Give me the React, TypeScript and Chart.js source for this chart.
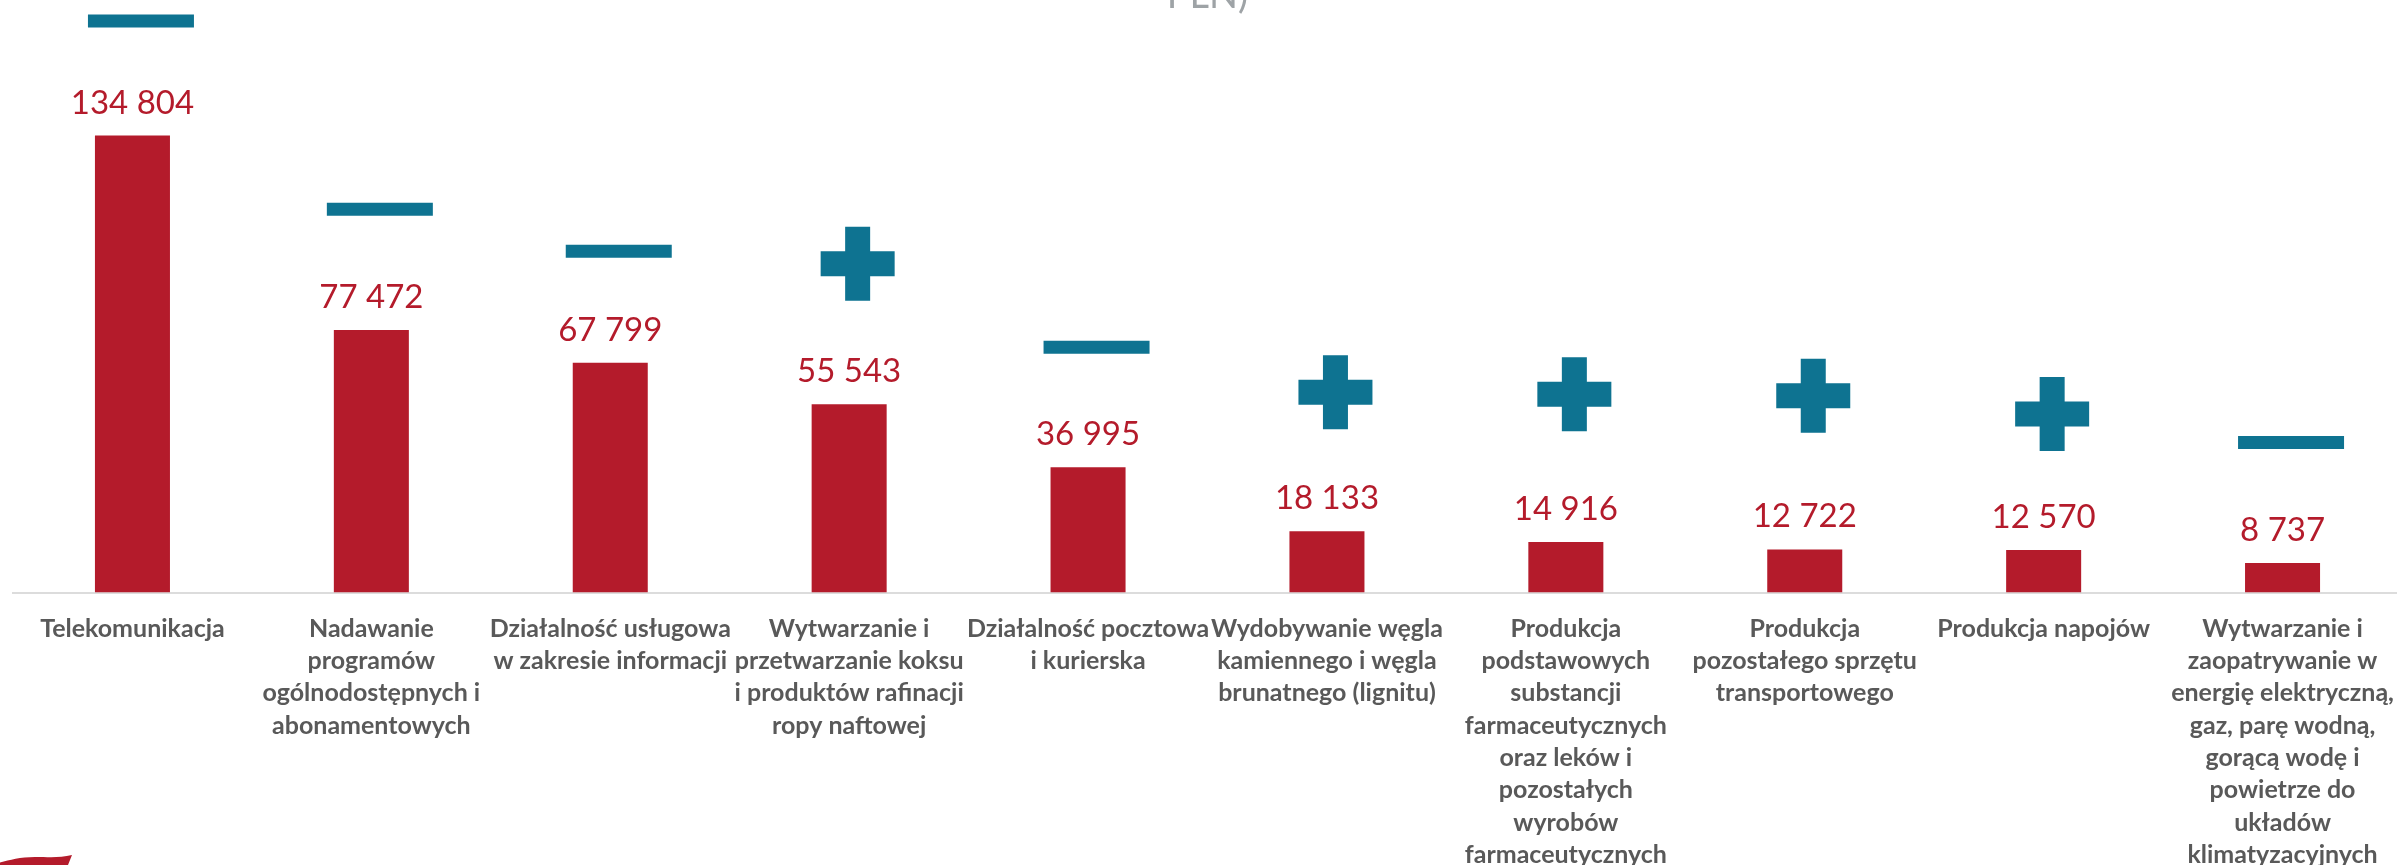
import React, { useEffect, useRef } from 'react';
import { Chart, registerables } from 'chart.js';

Chart.register(...registerables);

// ---- data ----
const categoryLabels: string[][] = [
  ['Telekomunikacja'],
  ['Nadawanie', 'programów', 'ogólnodostępnych i', 'abonamentowych'],
  ['Działalność usługowa', 'w zakresie informacji'],
  ['Wytwarzanie i', 'przetwarzanie koksu', 'i produktów rafinacji', 'ropy naftowej'],
  ['Działalność pocztowa', 'i kurierska'],
  ['Wydobywanie węgla', 'kamiennego i węgla', 'brunatnego (lignitu)'],
  ['Produkcja', 'podstawowych', 'substancji', 'farmaceutycznych', 'oraz leków i', 'pozostałych', 'wyrobów', 'farmaceutycznych'],
  ['Produkcja', 'pozostałego sprzętu', 'transportowego'],
  ['Produkcja napojów'],
  ['Wytwarzanie i', 'zaopatrywanie w', 'energię elektryczną,', 'gaz, parę wodną,', 'gorącą wodę i', 'powietrze do', 'układów', 'klimatyzacyjnych'],
];

const values: number[] = [134804, 77472, 67799, 55543, 36995, 18133, 14916, 12722, 12570, 8737];

// direction of change shown by the marker above each bar
const trendSigns: string[] = ['-', '-', '-', '+', '-', '+', '+', '+', '+', '-'];

// vertical level (in chart units) at which each marker sits
const markerLevels: number[] = [168600, 113100, 100700, 97000, 72400, 59100, 58500, 58100, 52700, 44300];

const titleText = 'PLN)';

// ---- styles ----
const BAR_COLOR = '#B41B2B';
const LABEL_COLOR = '#B41B2B';
const MARKER_COLOR = '#0E7391';
const AXIS_TEXT = '#595959';
const FONT = 'Lato';

const formatValue = (v: number) => String(v).replace(/\B(?=(\d{3})+(?!\d))/g, ' ');

const valueLabelPlugin = {
  id: 'valueLabels',
  afterDatasetsDraw(chart: any) {
    const meta = chart.getDatasetMeta(0);
    const ctx = chart.ctx;
    ctx.save();
    ctx.font = `33px ${FONT}`;
    ctx.fillStyle = LABEL_COLOR;
    ctx.textAlign = 'center';
    ctx.textBaseline = 'alphabetic';
    meta.data.forEach((el: any, i: number) => {
      ctx.fillText(formatValue(values[i]), el.x, el.y - 22);
    });
    ctx.restore();
  },
};

const markerShiftPlugin = {
  id: 'markerShift',
  beforeDatasetDraw(chart: any, args: any) {
    if (args.index === 1) {
      chart.ctx.save();
      chart.ctx.translate(8.5, 0);
    }
  },
  afterDatasetDraw(chart: any, args: any) {
    if (args.index === 1) chart.ctx.restore();
  },
};

export default function App() {
  const canvasRef = useRef<HTMLCanvasElement | null>(null);

  useEffect(() => {
    if (!canvasRef.current) return;
    const chart = new Chart(canvasRef.current, {
      type: 'bar',
      data: {
        labels: categoryLabels,
        datasets: [
          {
            type: 'bar',
            data: values,
            backgroundColor: BAR_COLOR,
            borderWidth: 0,
            barPercentage: 0.314,
            categoryPercentage: 1,
            order: 2,
          },
          {
            type: 'line',
            data: markerLevels,
            showLine: false,
            clip: false,
            order: 1,
            pointStyle: trendSigns.map((s) => (s === '+' ? 'cross' : 'line')) as any,
            pointRadius: trendSigns.map((s) => (s === '+' ? 37 : 53)),
            pointHoverRadius: trendSigns.map((s) => (s === '+' ? 37 : 53)),
            pointBorderWidth: trendSigns.map((s) => (s === '+' ? 25 : 13)),
            pointHoverBorderWidth: trendSigns.map((s) => (s === '+' ? 25 : 13)),
            pointBorderColor: MARKER_COLOR,
            pointBackgroundColor: MARKER_COLOR,
          } as any,
        ],
      },
      options: {
        responsive: false,
        animation: false,
        events: [],
        layout: { autoPadding: false, padding: { left: 13, right: 8, top: 0, bottom: 0 } },
        plugins: {
          legend: { display: false },
          tooltip: { enabled: false },
          title: {
            display: true,
            text: titleText,
            color: '#9EA3A6',
            font: { family: FONT, size: 38, weight: 'normal', lineHeight: 1 },
            padding: { top: 0, bottom: 3 },
          },
        },
        scales: {
          x: {
            grid: { display: false, drawTicks: false },
            border: { display: true, color: '#DCDCDC', width: 2 },
            afterFit: (scale: any) => {
              scale.paddingLeft = 0;
              scale.paddingRight = 0;
            },
            ticks: {
              autoSkip: false,
              maxRotation: 0,
              minRotation: 0,
              padding: 20,
              color: AXIS_TEXT,
              font: { family: FONT, size: 25, weight: 'bold', lineHeight: '32.3px' },
            },
          },
          y: {
            display: false,
            min: 0,
            max: 169500,
          },
        },
      } as any,
      plugins: [valueLabelPlugin, markerShiftPlugin],
    });
    return () => chart.destroy();
  }, []);

  return (
    <div
      style={{
        position: 'fixed',
        left: 0,
        top: 0,
        width: 2397,
        height: 865,
        overflow: 'hidden',
        background: '#ffffff',
      }}
    >
      <div style={{ position: 'absolute', left: 0, top: -23, width: 2410, height: 914 }}>
        <canvas ref={canvasRef} width={2410} height={914} style={{ width: 2410, height: 914, display: 'block' }} />
      </div>
      <svg
        width={80}
        height={12}
        style={{ position: 'absolute', left: 0, top: 853 }}
        viewBox="0 0 80 12"
      >
        <path d="M0,12 L0,9.5 C10,7 20,4 35,4 C50,4 60,5 72,2 L68,12 Z" fill={BAR_COLOR} />
      </svg>
    </div>
  );
}
